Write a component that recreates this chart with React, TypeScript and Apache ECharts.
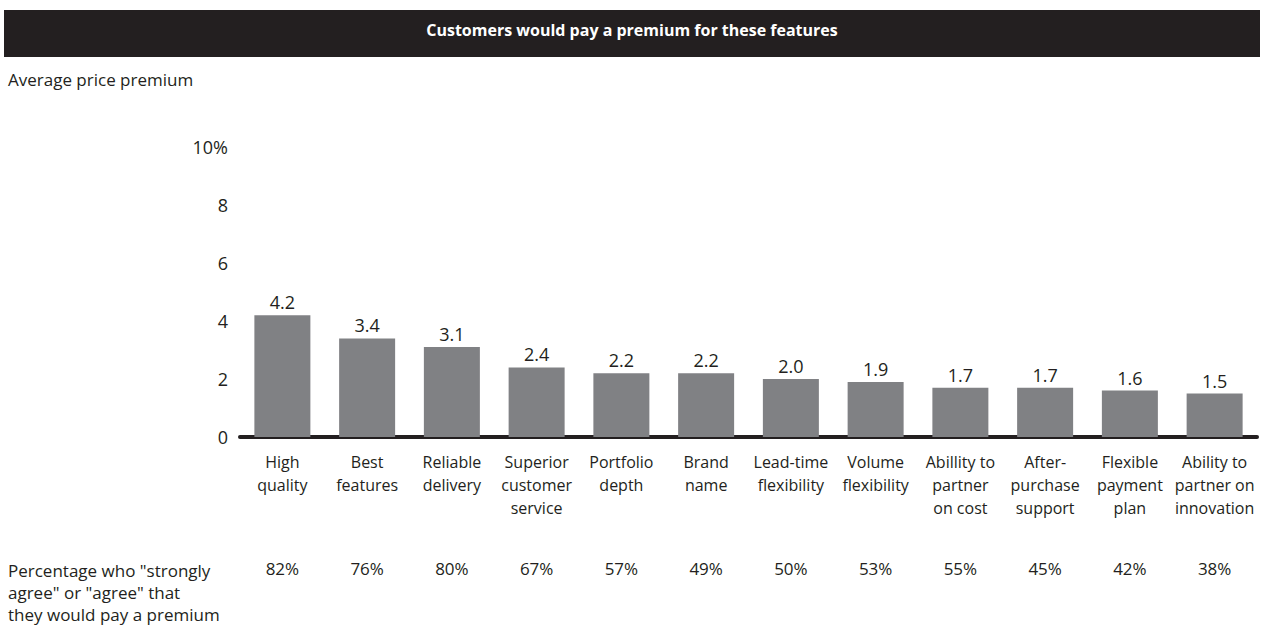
import React, { useEffect, useRef } from "react";
import * as echarts from "echarts";

const titleText = "Customers would pay a premium for these features";
const yAxisTitle = "Average price premium";
const rowTitle = 'Percentage who "strongly\nagree" or "agree" that\nthey would pay a premium';

const categories = [
  "High\nquality",
  "Best\nfeatures",
  "Reliable\ndelivery",
  "Superior\ncustomer\nservice",
  "Portfolio\ndepth",
  "Brand\nname",
  "Lead-time\nflexibility",
  "Volume\nflexibility",
  "Abillity to\npartner\non cost",
  "After-\npurchase\nsupport",
  "Flexible\npayment\nplan",
  "Ability to\npartner on\ninnovation",
];

const premiumValues = [4.2, 3.4, 3.1, 2.4, 2.2, 2.2, 2.0, 1.9, 1.7, 1.7, 1.6, 1.5];

const agreePercentages = ["82%", "76%", "80%", "67%", "57%", "49%", "50%", "53%", "55%", "45%", "42%", "38%"];

const FONT = "'Open Sans', sans-serif";
const TEXT = "#231f20";

export default function App() {
  const ref = useRef<HTMLDivElement>(null);

  useEffect(() => {
    if (!ref.current) return;
    const chart = echarts.init(ref.current, null, { renderer: "svg" });
    chart.setOption({
      animation: false,
      backgroundColor: "#ffffff",
      textStyle: { fontFamily: FONT, color: TEXT },
      grid: { left: 240, right: 7, top: 147, bottom: 188, containLabel: false },
      graphic: [
        {
          type: "rect",
          left: 4,
          top: 10,
          shape: { width: 1256, height: 47 },
          style: { fill: "#231f20" },
        },
        {
          type: "text",
          left: "center",
          top: 22,
          style: {
            text: titleText,
            fill: "#ffffff",
            font: `bold 16px ${FONT}`,
          },
        },
        {
          type: "text",
          left: 8,
          top: 71,
          style: { text: yAxisTitle, fill: TEXT, font: `17px ${FONT}` },
        },
        {
          type: "text",
          left: 8,
          top: 559,
          style: { text: rowTitle, fill: TEXT, font: `17px ${FONT}`, lineHeight: 22 },
        },
      ],
      xAxis: [
        {
          type: "category",
          data: categories,
          position: "bottom",
          axisLine: { show: true, lineStyle: { color: "#231f20", width: 4 } },
          axisTick: { show: false },
          axisLabel: {
            interval: 0,
            margin: 13,
            color: TEXT,
            fontFamily: FONT,
            fontSize: 16,
            lineHeight: 23,
          },
        },
        {
          type: "category",
          data: agreePercentages,
          position: "bottom",
          axisLine: { show: false },
          axisTick: { show: false },
          axisLabel: {
            interval: 0,
            margin: 123,
            color: TEXT,
            fontFamily: FONT,
            fontSize: 17,
          },
        },
      ],
      yAxis: {
        type: "value",
        min: 0,
        max: 10,
        interval: 2,
        axisLine: { show: false },
        axisTick: { show: false },
        splitLine: { show: false },
        axisLabel: {
          margin: 12,
          color: TEXT,
          fontFamily: FONT,
          fontSize: 18,
          formatter: (v: number) => (v === 10 ? "10%" : String(v)),
        },
      },
      series: [
        {
          type: "bar",
          xAxisIndex: 0,
          data: premiumValues,
          barWidth: 56,
          itemStyle: { color: "#808184" },
          label: {
            show: true,
            position: "top",
            distance: 4,
            color: TEXT,
            fontFamily: FONT,
            fontSize: 18,
            formatter: (p: any) => Number(p.value).toFixed(1),
          },
        },
      ],
    });
    return () => chart.dispose();
  }, []);

  return (
    <div
      ref={ref}
      style={{ position: "fixed", left: 0, top: 0, width: 1264, height: 625 }}
    />
  );
}
